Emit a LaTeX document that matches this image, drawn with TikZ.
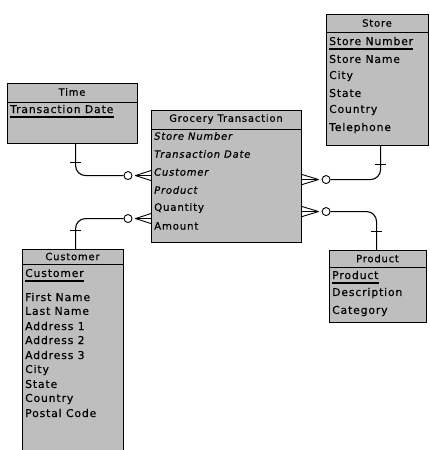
\documentclass[tikz,border=0pt]{standalone}
\usepackage{fontspec}
\setmainfont{DejaVu Sans}[LetterSpace=8, FakeBold=0.4]
\usetikzlibrary{calc}
\definecolor{boxgray}{RGB}{190,190,190}

\tikzset{
  entity/.style={draw=black, line width=1.1pt, fill=boxgray, inner sep=0pt, anchor=north west},
  ttl/.style={inner sep=0pt, anchor=center, font=\fontsize{10}{11}\selectfont},
  attr/.style={inner sep=0pt, anchor=west, font=\fontsize{10.8}{12}\selectfont},
  gattr/.style={inner sep=0pt, anchor=west, font=\fontsize{10.2}{12}\selectfont},
  fk/.style={gattr, font=\fontsize{10}{12}\selectfont\itshape},
  divider/.style={line width=0.9pt},
  keyline/.style={line width=1.2pt},
  link/.style={line width=1.1pt, rounded corners=10pt},
  tick/.style={line width=0.9pt},
  crow/.style={line width=0.9pt},
  opt/.style={circle, draw, fill=white, minimum size=8pt, inner sep=0pt, line width=0.9pt}
}

\begin{document}
\begin{tikzpicture}[x=1pt, y=-1pt]
\useasboundingbox (0,0) rectangle (430,450);
\clip (0,0) rectangle (430,450);

% ---- Time ----
\node[entity, minimum width=130pt, minimum height=60pt] (time) at (7,83) {};
\draw[divider] (7,102) -- (137,102);
\node[ttl] (timeT) at (72,92) {Time};
\node[attr] (timeA) at (10,109) {Transaction Date};
\draw[keyline] ([yshift=-4pt]timeA.base west) -- ([yshift=-4pt]timeA.base east);

% ---- Store ----
\node[entity, minimum width=102pt, minimum height=131pt] (store) at (326,14) {};
\draw[divider] (326,32) -- (428,32);
\node[ttl] (storeT) at (377,23) {Store};
\node[attr] (storeA) at (329,41) {Store Number};
\draw[keyline] ([yshift=-4pt]storeA.base west) -- ([yshift=-4pt]storeA.base east);
\node[attr] (storeB) at (329,59) {Store Name};
\node[attr] (storeC) at (329,76) {City};
\node[attr] (storeD) at (329,93) {State};
\node[attr] (storeE) at (329,110) {Country};
\node[attr] (storeF) at (329,128) {Telephone};

% ---- Grocery Transaction ----
\node[entity, minimum width=150pt, minimum height=132pt] (grocery) at (151,110) {};
\draw[divider] (151,129) -- (301,129);
\node[ttl] (grocT) at (226,119) {Grocery Transaction};
\node[fk]    (grocA) at (154,136) {Store Number};
\node[fk]    (grocB) at (154,154) {Transaction Date};
\node[fk]    (grocC) at (154,172) {Customer};
\node[fk]    (grocD) at (154,190) {Product};
\node[gattr] (grocE) at (154,208) {Quantity};
\node[gattr] (grocF) at (154,226) {Amount};

% ---- Customer ----
\node[entity, minimum width=101pt, minimum height=215pt] (customer) at (22,249) {};
\draw[divider] (22,264) -- (123,264);
\node[ttl] (custT) at (72.5,256.5) {Customer};
\node[attr] (custA) at (25,273) {Customer};
\draw[keyline] ([yshift=-4pt]custA.base west) -- ([yshift=-4pt]custA.base east);
\node[attr] (custB) at (25,297) {First Name};
\node[attr] (custC) at (25,311) {Last Name};
\node[attr] (custD) at (25,326) {Address 1};
\node[attr] (custE) at (25,340) {Address 2};
\node[attr] (custF) at (25,355) {Address 3};
\node[attr] (custG) at (25,370) {City};
\node[attr] (custH) at (25,384) {State};
\node[attr] (custI) at (25,399) {Country};
\node[attr] (custJ) at (25,413) {Postal Code};

% ---- Product ----
\node[entity, minimum width=97pt, minimum height=72pt] (product) at (329,250) {};
\draw[divider] (329,267) -- (426,267);
\node[ttl] (prodT) at (377.5,258.5) {Product};
\node[attr] (prodA) at (332,275) {Product};
\draw[keyline] ([yshift=-4pt]prodA.base west) -- ([yshift=-4pt]prodA.base east);
\node[attr] (prodB) at (332,293) {Description};
\node[attr] (prodC) at (332,311) {Category};

% ---- relationships: optional circle + crow's foot at Grocery Transaction ----
\node[opt] (c1) at ($(grocery.west)+(-23,-1)$) {};
\node[opt] (c2) at ($(grocery.west)+(-23,42)$) {};
\node[opt] (c3) at ($(grocery.east)+(24,3)$) {};
\node[opt] (c4) at ($(grocery.east)+(24,35)$) {};

% Time -- Grocery Transaction
\draw[link] ($(time.south)+(3,0)$) |- (c1.west);
\draw[tick] ($(time.south)+(-2.5,18)$) -- ++(11,0);
\foreach \d in {-5,0,5}
  \draw[crow] ($(c1.east)+(3,0)$) -- ($(grocery.west)+(0,-1+\d)$);

% Customer -- Grocery Transaction
\draw[link] ($(customer.north)+(2.5,0)$) |- (c2.west);
\draw[tick] ($(customer.north)+(-3,-19)$) -- ++(11,0);
\foreach \d in {-5,0,5}
  \draw[crow] ($(c2.east)+(3,0)$) -- ($(grocery.west)+(0,42+\d)$);

% Store -- Grocery Transaction
\draw[link] ($(store.south)+(3,0)$) |- (c3.east);
\draw[tick] ($(store.south)+(-2.5,18)$) -- ++(11,0);
\foreach \d in {-5,0,5}
  \draw[crow] ($(c3.west)+(-3,0)$) -- ($(grocery.east)+(0,3+\d)$);

% Product -- Grocery Transaction
\draw[link] ($(product.north)+(-1.5,0)$) |- (c4.east);
\draw[tick] ($(product.north)+(-7,-19)$) -- ++(11,0);
\foreach \d in {-5,0,5}
  \draw[crow] ($(c4.west)+(-3,0)$) -- ($(grocery.east)+(0,35+\d)$);
\end{tikzpicture}
\end{document}
